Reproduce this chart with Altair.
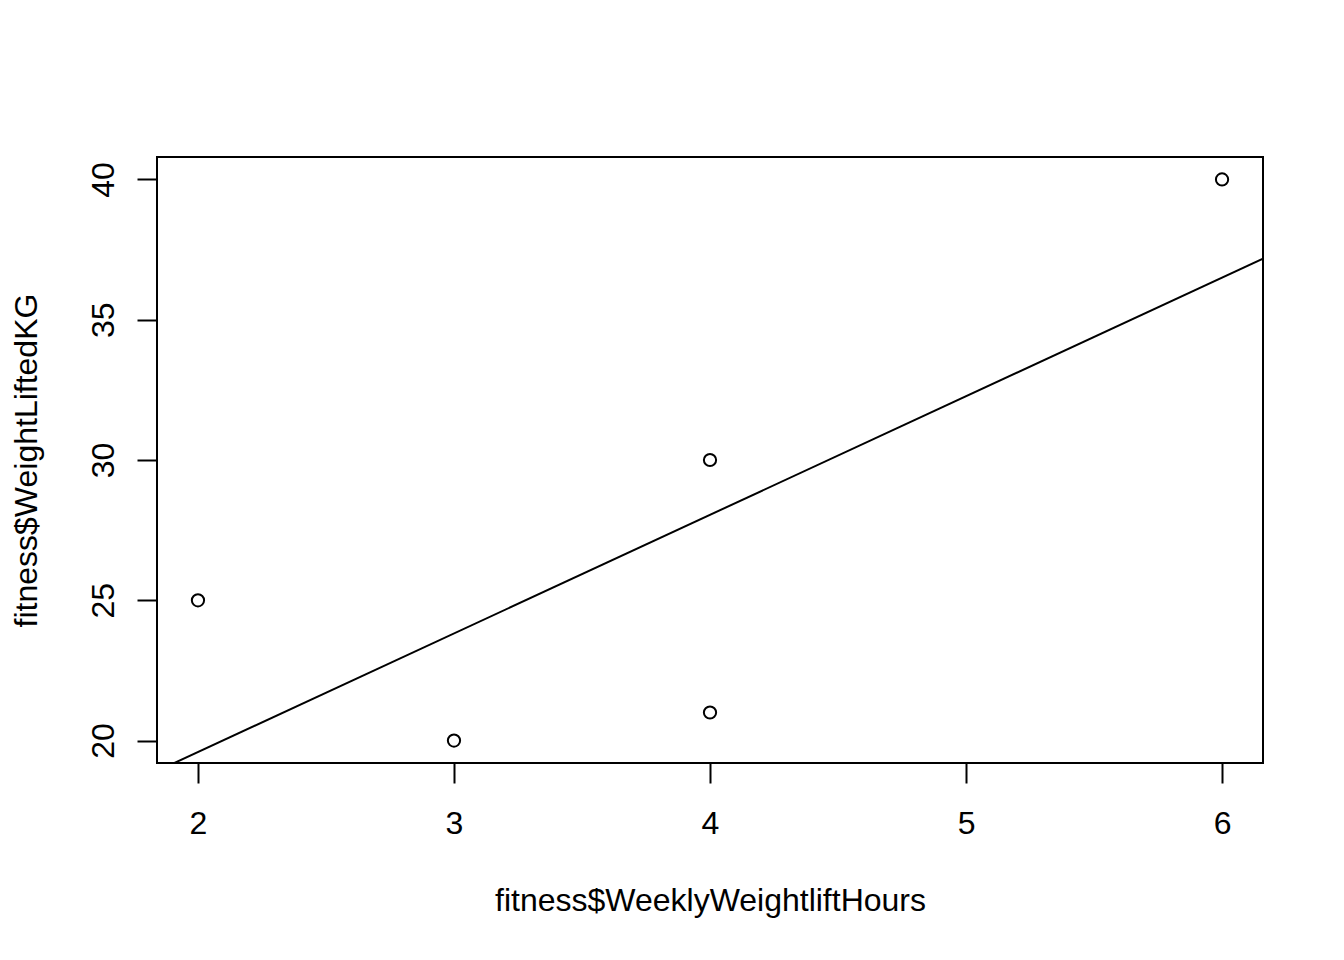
import altair as alt
import pandas as pd

# data
hours = [2, 3, 4, 4, 6]
weight = [25, 20, 30, 21, 40]
x_ticks = [2, 3, 4, 5, 6]
y_ticks = [20, 25, 30, 35, 40]
x_domain = [1.84, 6.16]
y_domain = [19.2, 40.8]

df = pd.DataFrame({"hours": hours, "weight": weight})
FONT = "Liberation Sans"

xscale = alt.Scale(domain=x_domain, nice=False, zero=False)
yscale = alt.Scale(domain=y_domain, nice=False, zero=False)

xaxis = alt.Axis(
    title="fitness$WeeklyWeightliftHours", values=x_ticks, grid=False, domain=False,
    tickColor="black", tickWidth=2, tickSize=20,
    labelFont=FONT, labelFontSize=32, labelColor="black", labelBaseline="alphabetic",
    labelPadding=50, labelFlush=False, labelOverlap=False,
    titleFont=FONT, titleFontSize=32, titleFontWeight="normal", titleColor="black",
    titleBaseline="alphabetic", titleY=147,
)
yaxis = alt.Axis(
    title="fitness$WeightLiftedKG", values=y_ticks, grid=False, domain=False,
    tickColor="black", tickWidth=2, tickSize=20,
    labelFont=FONT, labelFontSize=32, labelColor="black", labelAngle=270,
    labelAlign="center", labelBaseline="alphabetic", labelPadding=24,
    labelFlush=False, labelOverlap=False,
    titleFont=FONT, titleFontSize=32, titleFontWeight="normal", titleColor="black",
    titleAngle=270, titleAlign="center", titleBaseline="alphabetic",
    titleX=-121, titleY=303,
)

points = alt.Chart(df).mark_point(
    shape="circle", filled=False, color="black", size=150, strokeWidth=2, opacity=1
).encode(
    x=alt.X("hours:Q", scale=xscale, axis=xaxis),
    y=alt.Y("weight:Q", scale=yscale, axis=yaxis),
)

line = alt.Chart(df).transform_regression(
    "hours", "weight", extent=x_domain
).mark_line(color="black", strokeWidth=2, clip=True).encode(
    x=alt.X("hours:Q", scale=xscale, axis=xaxis),
    y=alt.Y("weight:Q", scale=yscale, axis=yaxis),
)

chart = alt.layer(line, points).properties(
    width=1106, height=606,
    padding={"left": 149, "top": 149, "right": 73, "bottom": 181},
    autosize=alt.AutoSizeParams(type="none"),
    background="white",
).configure_view(stroke="black", strokeWidth=2)

chart.save("out.html", embed_options={"renderer": "svg", "actions": False})
